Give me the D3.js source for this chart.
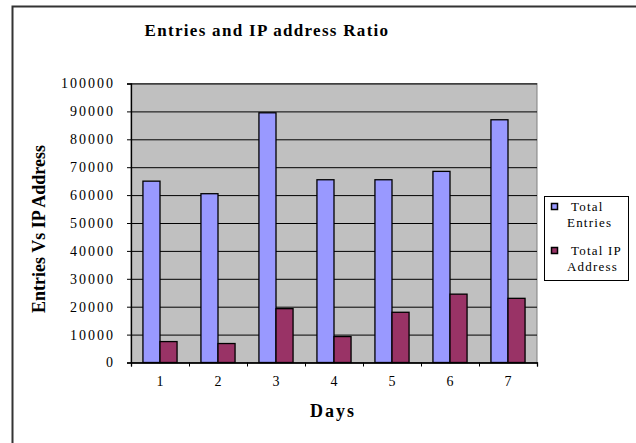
<!DOCTYPE html>
<html>
<head>
<meta charset="utf-8">
<script src="https://cdn.jsdelivr.net/npm/d3@7/dist/d3.min.js"></script>
<style>
  body { margin: 0; background: #fff; }
  text { font-family: "Liberation Serif", "Times New Roman", serif; fill: #000; }
</style>
</head>
<body>
<div id="chart"></div>
<script>
// chart data
const days = ["1", "2", "3", "4", "5", "6", "7"];
const seriesNames = ["Total Entries", "Total IP Address"];
const totalEntries = [65000, 60500, 89500, 65500, 65500, 68500, 87000];
const totalIP = [7500, 6800, 19300, 9300, 18000, 24500, 23000];
const yTicks = [0, 10000, 20000, 30000, 40000, 50000, 60000, 70000, 80000, 90000, 100000];

const colors = {"Total Entries": "#9999ff", "Total IP Address": "#993366"};

const W = 636, H = 443;
const plot = {left: 131, right: 537, top: 83.5, bottom: 362.5};

const svg = d3.select("#chart")
  .append("svg")
    .attr("width", W)
    .attr("height", H);

// outer chart frame (cropped on right/bottom)
svg.append("rect")
  .attr("x", 12.5).attr("y", 6.5)
  .attr("width", 700).attr("height", 500)
  .attr("fill", "none")
  .attr("stroke", "#333")
  .attr("stroke-width", 2);

// scales
const x = d3.scaleBand()
  .domain(days)
  .range([plot.left, plot.right]);

const xs = d3.scaleBand()
  .domain(seriesNames)
  .range([0, x.bandwidth()])
  .paddingOuter(0.7);

const y = d3.scaleLinear()
  .domain([0, 100000])
  .range([plot.bottom, plot.top]);

// plot area background
svg.append("rect")
  .attr("x", plot.left).attr("y", plot.top)
  .attr("width", plot.right - plot.left)
  .attr("height", plot.bottom - plot.top)
  .attr("fill", "#c0c0c0")
  .attr("stroke", "#808080")
  .attr("stroke-width", 1);

// gridlines
svg.append("g")
  .attr("transform", "translate(" + plot.left + ",0)")
  .call(d3.axisLeft(y).tickValues(yTicks).tickSize(-(plot.right - plot.left)).tickFormat(""))
  .call(g => g.select(".domain").remove())
  .call(g => g.selectAll("line").attr("stroke", "#000").attr("stroke-width", 1));

// bars
const rows = days.map((d, i) => ({day: d, values: [
  {key: "Total Entries", value: totalEntries[i]},
  {key: "Total IP Address", value: totalIP[i]}
]}));

svg.append("g")
  .selectAll("g")
  .data(rows)
  .enter()
  .append("g")
    .attr("transform", d => "translate(" + x(d.day) + ",0)")
  .selectAll("rect")
  .data(d => d.values)
  .enter()
  .append("rect")
    .attr("x", d => xs(d.key))
    .attr("y", d => y(d.value))
    .attr("width", xs.bandwidth())
    .attr("height", d => y(0) - y(d.value))
    .attr("fill", d => colors[d.key])
    .attr("stroke", "#000")
    .attr("stroke-width", 1.3);

// y axis
svg.append("g")
  .attr("transform", "translate(" + plot.left + ",0)")
  .call(d3.axisLeft(y).tickValues(yTicks).tickSize(4).tickPadding(12).tickFormat(d3.format("d")))
  .call(g => g.select(".domain").attr("stroke", "#000").attr("stroke-width", 1.3))
  .call(g => g.selectAll("line").attr("stroke", "#000"))
  .call(g => g.selectAll("text")
    .style("font-family", "'Liberation Serif', serif")
    .style("font-size", "14px")
    .style("letter-spacing", "2px")
    .attr("fill", "#000"));

// x axis: line + ticks at category boundaries
const xb = d3.scaleLinear().domain([0, days.length]).range([plot.left, plot.right]);
svg.append("g")
  .attr("transform", "translate(0," + plot.bottom + ")")
  .call(d3.axisBottom(xb).ticks(days.length).tickSize(4).tickFormat(""))
  .call(g => g.select(".domain").attr("stroke", "#000").attr("stroke-width", 1.3))
  .call(g => g.selectAll("line").attr("stroke", "#000"));

// x labels
svg.append("g")
  .attr("transform", "translate(0," + plot.bottom + ")")
  .call(d3.axisBottom(x).tickSize(0).tickPadding(14))
  .call(g => g.select(".domain").remove())
  .call(g => g.selectAll("text")
    .style("font-family", "'Liberation Serif', serif")
    .style("font-size", "14px")
    .attr("fill", "#000"));

// title
svg.append("text")
  .attr("x", 267).attr("y", 36)
  .attr("text-anchor", "middle")
  .style("font-size", "17px")
  .style("font-weight", "bold")
  .style("letter-spacing", "1.3px")
  .text("Entries and IP address Ratio");

// axis titles
svg.append("text")
  .attr("x", 333).attr("y", 417)
  .attr("text-anchor", "middle")
  .style("font-size", "18px")
  .style("font-weight", "bold")
  .style("letter-spacing", "2px")
  .text("Days");

svg.append("text")
  .attr("transform", "translate(45,229) rotate(-90)")
  .attr("text-anchor", "middle")
  .style("font-size", "18px")
  .style("font-weight", "bold")
  .text("Entries Vs IP Address");

// legend
const legend = svg.append("g");
legend.append("rect")
  .attr("x", 544.5).attr("y", 196.5)
  .attr("width", 84).attr("height", 84)
  .attr("fill", "#fff")
  .attr("stroke", "#000")
  .attr("stroke-width", 1);

const legendLines = [["Total", "Entries"], ["Total IP", "Address"]];
const li = legend.selectAll("g.item")
  .data(seriesNames)
  .enter()
  .append("g")
    .attr("class", "item")
    .attr("transform", (d, i) => "translate(0," + (i * 44) + ")");

li.append("rect")
  .attr("x", 551.5).attr("y", 203.5)
  .attr("width", 6).attr("height", 6)
  .attr("fill", d => colors[d])
  .attr("stroke", "#000")
  .attr("stroke-width", 1.5);

li.append("text")
  .attr("x", 571).attr("y", 211)
  .style("font-size", "13px")
  .style("letter-spacing", "1.2px")
  .text((d, i) => legendLines[i][0]);

li.append("text")
  .attr("x", 567).attr("y", 227)
  .style("font-size", "13px")
  .style("letter-spacing", "1.2px")
  .text((d, i) => legendLines[i][1]);
</script>
</body>
</html>
